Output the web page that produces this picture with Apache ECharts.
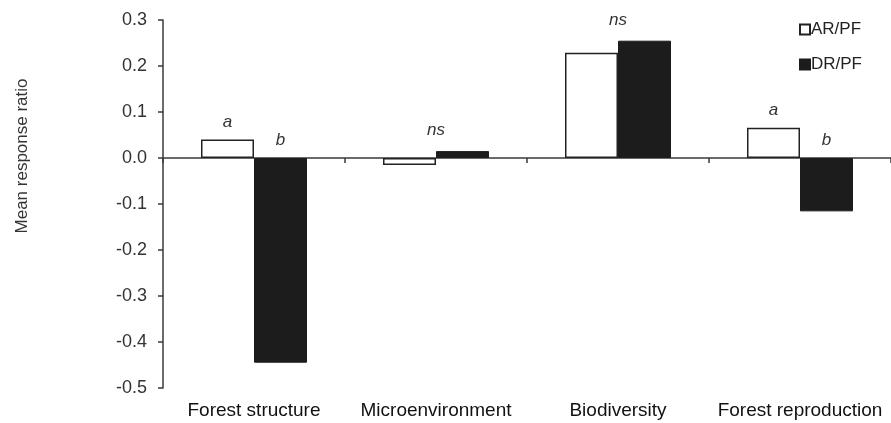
<!DOCTYPE html>
<html>
<head>
<meta charset="utf-8">
<script src="https://cdn.jsdelivr.net/npm/echarts@6/dist/echarts.min.js"></script>
<style>
  html, body { margin: 0; padding: 0; background: #fff; }
  #chart { width: 891px; height: 423px; }
</style>
</head>
<body>
<div id="chart"></div>
<script>
// Response ratios of secondary forests relative to primary forest
const categories = ['Forest structure', 'Microenvironment', 'Biodiversity', 'Forest reproduction'];
const arValues = [0.040, -0.015, 0.229, 0.066];
const drValues = [-0.445, 0.015, 0.255, -0.116];
// Significance letters shown above each pair
const arMarks = ['a', '', '', 'a'];
const drMarks = ['b', 'ns', 'ns', 'b'];
const seriesNames = ['AR/PF', 'DR/PF'];
const yTitle = 'Mean response ratio';

const BAR_W = 53;
const FONT = 'Liberation Sans, Arial, sans-serif';
const ink = '#222';
const axisInk = '#3a3a3a';

function markLabel(text, isGroupMark) {
  return {
    show: text !== '',
    position: 'top',
    distance: isGroupMark ? 12 : 9,
    offset: isGroupMark ? [-BAR_W / 2, 0] : [0, 0],
    formatter: text,
    fontFamily: FONT,
    fontStyle: 'italic',
    fontSize: 17,
    color: '#333'
  };
}

const arData = arValues.map((v, i) => ({ value: v, label: markLabel(arMarks[i], false) }));
const drData = drValues.map((v, i) => ({ value: v, label: markLabel(drMarks[i], drMarks[i] === 'ns') }));

const chart = echarts.init(document.getElementById('chart'), null, { renderer: 'canvas' });
chart.setOption({
  animation: false,
  backgroundColor: '#fff',
  textStyle: { fontFamily: FONT },
  grid: { left: 163, top: 20, bottom: 35, right: -11, containLabel: false },
  legend: {
    data: seriesNames,
    orient: 'vertical',
    left: 794,
    top: 16,
    itemWidth: 10,
    itemHeight: 10,
    itemGap: 18,
    icon: 'rect',
    textStyle: { fontSize: 17, color: ink, padding: [0, 0, 0, -4] }
  },
  graphic: [{
    type: 'text',
    x: 22,
    y: 156,
    rotation: Math.PI / 2,
    style: {
      text: yTitle,
      font: '17px ' + FONT,
      fill: '#333',
      textAlign: 'center',
      textVerticalAlign: 'middle'
    }
  }],
  xAxis: [
    {
      type: 'category',
      data: categories,
      axisLine: { onZero: true, lineStyle: { color: axisInk, width: 1.5 } },
      axisTick: { show: true, inside: false, length: 5, lineStyle: { color: axisInk, width: 1.5 } },
      axisLabel: { show: false }
    },
    {
      type: 'category',
      data: categories,
      position: 'bottom',
      axisLine: { show: false, onZero: false },
      axisTick: { show: false },
      axisLabel: { show: true, interval: 0, hideOverlap: false, margin: 13, fontSize: 19, color: '#111' }
    }
  ],
  yAxis: {
    type: 'value',
    min: -0.5,
    max: 0.3,
    interval: 0.1,
    axisLine: { show: true, lineStyle: { color: axisInk, width: 1.5 } },
    axisTick: { show: true, length: 5, lineStyle: { color: axisInk, width: 1.5 } },
    axisLabel: {
      margin: 16,
      fontSize: 18,
      color: '#333',
      formatter: v => v.toFixed(1)
    },
    splitLine: { show: false }
  },
  series: [
    {
      name: seriesNames[0],
      type: 'bar',
      xAxisIndex: 0,
      barWidth: BAR_W,
      barGap: '0%',
      itemStyle: { color: '#fff', borderColor: ink, borderWidth: 1.5 },
      data: arData
    },
    {
      name: seriesNames[1],
      type: 'bar',
      xAxisIndex: 0,
      barWidth: BAR_W,
      barGap: '0%',
      itemStyle: { color: '#1c1c1c', borderColor: '#1c1c1c', borderWidth: 1 },
      data: drData
    }
  ]
});
</script>
</body>
</html>
